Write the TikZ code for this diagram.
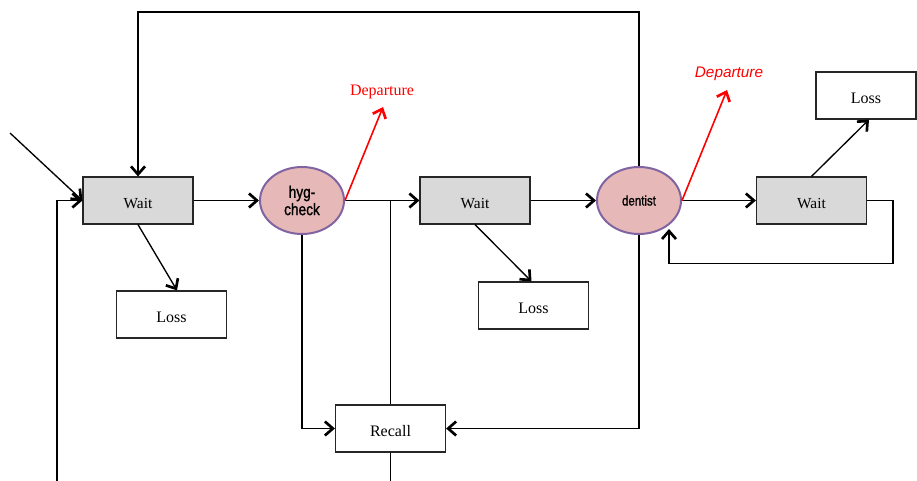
\documentclass[tikz,border=0pt]{standalone}
\usepackage{fontspec}
\setmainfont{Liberation Serif}
\newfontfamily\ellfont{Liberation Sans}[FakeStretch=0.82,FakeBold=1.2]
\newfontfamily\depfont{Liberation Sans}
\usetikzlibrary{arrows.meta,shapes.geometric,calc}
\definecolor{boxgray}{HTML}{D9D9D9}
\definecolor{ellfill}{HTML}{E6B9B8}
\definecolor{ellline}{HTML}{8064A2}
\begin{document}
\begin{tikzpicture}[x=0.75pt,y=-0.75pt,
  >={Straight Barb[length=6pt,width=10.5pt,line width=2pt]},
  conn/.style={draw=black,line width=1pt,->},
  plain/.style={draw=black,line width=1pt},
  redconn/.style={draw=red,line width=1.2pt,->},
  waitbox/.style={draw=black!85,line width=0.9pt,fill=boxgray,minimum width=82.5pt,minimum height=35.25pt,inner sep=0pt,text height=1.2em,text depth=0pt,font=\fontsize{11.5}{13}\selectfont},
  lossbox/.style={draw=black!85,line width=0.9pt,fill=white,minimum width=82.5pt,minimum height=35.25pt,inner sep=0pt,text height=1.18em,text depth=0pt,font=\fontsize{12}{14}\selectfont},
  station/.style={ellipse,draw=ellline,line width=1.5pt,fill=ellfill,minimum width=63pt,minimum height=50.25pt,inner sep=0pt,align=center},
  deplabel/.style={text=red,inner sep=0pt}
]
\useasboundingbox (0,0) rectangle (917,481);
% nodes
\node[waitbox] (wait1) at (138,200.5) {Wait};
\node[station,font=\ellfont\fontsize{12.5}{13}\selectfont] (hyg) at (302,200.5) {hyg-\\check};
\node[waitbox] (wait2) at (475,200.5) {Wait};
\node[station,font=\ellfont\fontsize{10.5}{12}\selectfont] (dentist) at (639,200.5) {dentist};
\node[waitbox] (wait3) at (811.5,200.5) {Wait};
\node[lossbox] (loss1) at (171.5,314.5) {Loss};
\node[lossbox] (loss2) at (533.5,305.5) {Loss};
\node[lossbox,minimum width=75pt] (loss3) at (866,95.5) {Loss};
\node[lossbox] (recall) at (390.5,428.5) {Recall};
\node[deplabel,font=\fontsize{12}{14}\selectfont] (dep1) at (382,92) {Departure};
\node[deplabel,font=\depfont\itshape\fontsize{11.5}{13}\selectfont] (dep2) at (729,74) {Departure};
% coordinates
\coordinate (inpt) at (10,133);
\coordinate (leftbot) at (57,481);
\coordinate (topy) at (0,12);
\coordinate (dep1tip) at (383,107);
\coordinate (dep2tip) at (727,90);
\coordinate (loopr) at (893,263.5);
\coordinate (loopend) at (669,229);
% connectors
\draw[conn] (inpt) -- (wait1.west);
\draw[conn] (leftbot) |- (wait1.west);
\draw[conn] (dentist.north) -- (dentist.north |- topy) -| (wait1.north);
\draw[conn] (wait1.east) -- (hyg.west);
\draw[conn] (wait1.south) -- ($(loss1.north)+(5.5,0)$);
\draw[conn] (hyg.east) -- (wait2.west);
\draw[redconn] (hyg.east) -- (dep1tip);
\draw[conn] (hyg.south) |- (recall.west);
\draw[plain] (recall.north) -- (recall.north |- hyg.east);
\draw[plain] (recall.south) -- (recall.south |- leftbot);
\draw[conn] (wait2.east) -- (dentist.west);
\draw[conn] (wait2.south) -- ($(loss2.north)+(-2,0)$);
\draw[conn] (dentist.south) |- (recall.east);
\draw[conn] (dentist.east) -- (wait3.west);
\draw[redconn] (dentist.east) -- (dep2tip);
\draw[conn] (wait3.north) -- ($(loss3.south)+(3,0)$);
\draw[conn] (wait3.east) -| (loopr) -| (loopend);
\end{tikzpicture}
\end{document}
